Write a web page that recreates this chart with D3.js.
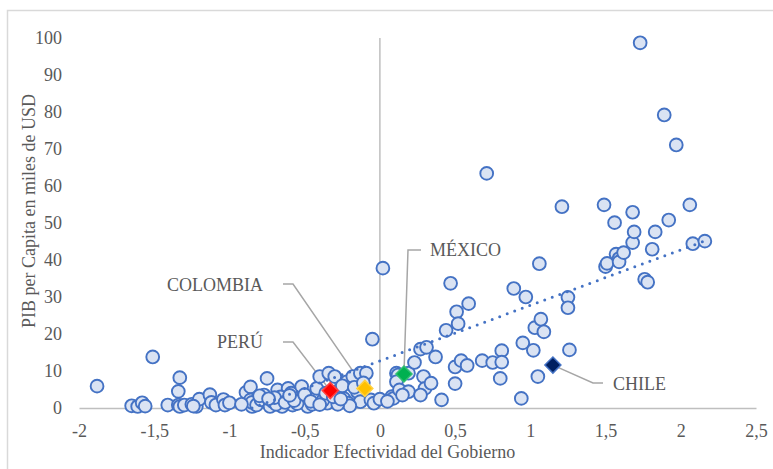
<!DOCTYPE html>
<html><head><meta charset="utf-8">
<script src="https://cdn.jsdelivr.net/npm/d3@7"></script>
<style>
body{margin:0;background:#fff}
</style>
</head><body>
<svg id="chart" width="773" height="469"></svg>
<script>
// ---------- DATA ----------
const xTickValues = [-2, -1.5, -1, -0.5, 0, 0.5, 1, 1.5, 2, 2.5];
const xTickLabels = ["-2", "-1,5", "-1", "-0,5", "0", "0,5", "1", "1,5", "2", "2,5"];
const yTickValues = [0, 10, 20, 30, 40, 50, 60, 70, 80, 90, 100];
const yTickLabels = ["0", "10", "20", "30", "40", "50", "60", "70", "80", "90", "100"];

// Indicador Efectividad del Gobierno (x) and PIB per cápita, miles USD (y)
const effectiveness = [
  -1.88, -1.51, -1.33, -1.34, -1.65, -1.61, -1.58, -1.56, -1.41, -1.34,
  -1.33, -1.30, -1.25, -1.22, -1.20, -1.13, -1.12, -1.09, -1.04, -1.03,
  -1.00, -0.89, -0.86, -0.86, -0.85, -0.85, -0.82, -0.79, -0.75, -0.73,
  -0.71, -0.68, -0.65, -0.62, -0.61, -0.59, -0.58, -0.52, -0.51, -0.48,
  -0.43, -0.42, -0.40, -0.35, -0.34, -0.30, -0.27, -0.24, -0.22, -0.21,
  -0.18, -0.15, -0.13, -0.13, -0.09, -0.06, -0.04, -0.05, -0.20, -0.69,
  -0.55, -0.45, -0.38, -0.28, -0.92, -0.77, -1.24, -0.66,
  -0.70, -0.63, -0.57, -0.50, -0.46, -0.36, -0.31, -0.25, -0.17, -0.11,
  -0.80, -0.74, -0.60, -0.40, -0.26,
  0.02, 0.00, 0.08, 0.09, 0.11, 0.12, 0.11, 0.13, 0.19, 0.19,
  0.23, 0.27, 0.31, 0.37, 0.29, 0.30, 0.34, 0.27, 0.41, 0.44,
  0.47, 0.51, 0.52, 0.59, 0.50, 0.50, 0.54, 0.58, 0.68, 0.71,
  0.75, 0.81, 0.81, 0.80, 0.89, 0.94, 0.95, 0.97, 1.02, 1.03,
  1.06, 1.07, 1.09, 1.05, 1.21, 1.25, 1.25, 1.26, 1.49, 1.50,
  1.51, 1.56, 1.57, 1.59, 1.59, 1.62, 1.68, 1.68, 1.69, 1.73,
  1.76, 1.78, 1.81, 1.83, 1.89, 1.92, 1.97, 2.06, 2.08, 2.16,
  0.15, 0.05
];
const gdpPerCapita = [
  5.9, 13.8, 8.2, 4.5, 0.6, 0.4, 1.4, 0.5, 0.8, 0.8,
  0.4, 0.8, 1.0, 0.4, 2.4, 3.6, 1.5, 0.8, 2.3, 0.8,
  1.4, 4.2, 5.7, 2.2, 0.4, 1.5, 0.8, 2.2, 8.0, 0.4,
  1.7, 4.9, 0.4, 2.6, 5.3, 4.0, 0.8, 5.8, 2.2, 0.4,
  2.6, 5.3, 8.5, 1.3, 9.4, 8.5, 4.9, 2.6, 7.1, 1.3,
  8.5, 4.4, 9.4, 1.7, 9.4, 2.2, 1.3, 18.6, 0.6, 1.0,
  1.2, 1.0, 2.0, 1.0, 1.0, 3.5, 0.5, 3.0,
  2.8, 1.5, 2.0, 3.6, 1.8, 4.0, 3.0, 6.0, 5.6, 6.8,
  3.3, 2.5, 3.4, 0.9, 2.4,
  37.8, 2.4, 3.1, 2.6, 9.4, 8.9, 7.1, 4.9, 4.4, 9.4,
  12.3, 15.9, 16.4, 13.8, 8.5, 5.3, 6.7, 3.5, 2.2, 21.0,
  33.7, 26.0, 22.8, 28.2, 11.1, 6.6, 12.8, 11.5, 12.8, 63.4,
  12.3, 15.5, 12.4, 8.0, 32.3, 2.6, 17.6, 30.0, 15.6, 21.7,
  39.0, 24.0, 20.6, 8.5, 54.4, 29.9, 27.1, 15.7, 54.9, 38.2,
  39.1, 50.1, 41.6, 40.4, 39.5, 42.0, 44.7, 52.9, 47.6, 98.7,
  34.8, 34.0, 42.9, 47.6, 79.2, 50.8, 71.1, 54.9, 44.4, 45.1,
  3.5, 1.8
];

// highlighted countries
const highlightNames = ["PERÚ", "COLOMBIA", "MÉXICO", "CHILE"];
const highlightX = [-0.33, -0.10, 0.16, 1.15];
const highlightY = [4.7, 5.3, 9.2, 11.6];

// linear trend line endpoints
const trendX = [-0.85, 2.15];
const trendY = [0, 45.0];

const xTitle = "Indicador Efectividad del Gobierno";
const yTitle = "PIB per Capita en miles de USD";

// ---------- STYLE / LAYOUT ----------
const FONT = "'Liberation Serif', 'Times New Roman', Times, 'DejaVu Serif', serif";
const TXT = "#595959";
const highlightFill = {"PERÚ": "#FF0000", "COLOMBIA": "#FFC000", "MÉXICO": "#00B050", "CHILE": "#002060"};
const highlightStroke = {"PERÚ": "#FF4040", "COLOMBIA": "#FFD040", "MÉXICO": "#30C070", "CHILE": "#4472C4"};
const labelLayout = {
  "PERÚ":     {tx: 263, ty: 348, anchor: "end",   a: [283, 342], b: [293, 342]},
  "COLOMBIA": {tx: 263, ty: 291, anchor: "end",   a: [283, 284], b: [293, 284]},
  "MÉXICO":   {tx: 430, ty: 256, anchor: "start", a: [421, 250], b: [408, 250]},
  "CHILE":    {tx: 613, ty: 390, anchor: "start", a: [603, 383], b: [593, 383]}
};

const svg = d3.select("#chart").style("font-family", FONT);
svg.append("rect").attr("x", 7.5).attr("y", 10.5).attr("width", 800).attr("height", 500)
  .attr("fill", "#fff").attr("stroke", "#D9D9D9").attr("stroke-width", 1.5);

const x = d3.scaleLinear().domain([-2, 2.5]).range([79, 756]);
const y = d3.scaleLinear().domain([0, 100]).range([408, 38]);

function styleText(sel) {
  sel.style("font-family", FONT).style("font-size", "18px").style("fill", TXT).attr("fill", TXT);
}

// x axis
const xAxis = d3.axisBottom(x).tickValues(xTickValues)
  .tickFormat((d, i) => xTickLabels[i]).tickSize(0).tickSizeOuter(0).tickPadding(16.5);
const gx = svg.append("g").attr("transform", `translate(0,${y(0)})`).call(xAxis);
gx.select(".domain").attr("stroke", "#BFBFBF").attr("stroke-width", 1.5);
styleText(gx.selectAll("text"));

// y axis (labels on left, line at x=0)
const yAxis = d3.axisLeft(y).tickValues(yTickValues)
  .tickFormat((d, i) => yTickLabels[i]).tickSize(0).tickSizeOuter(0).tickPadding(17);
const gy = svg.append("g").attr("transform", `translate(${x(-2)},0)`).call(yAxis);
gy.select(".domain").remove();
styleText(gy.selectAll("text"));

svg.append("line").attr("x1", x(0)).attr("x2", x(0)).attr("y1", y(0)).attr("y2", y(100))
  .attr("stroke", "#BFBFBF").attr("stroke-width", 1.5);

// titles
styleText(svg.append("text").attr("x", 387.5).attr("y", 458).attr("text-anchor", "middle").text(xTitle));
styleText(svg.append("text").attr("transform", `translate(35,211) rotate(-90)`).attr("text-anchor", "middle").text(yTitle));

// leader lines + labels
highlightNames.forEach((n, i) => {
  const L = labelLayout[n];
  svg.append("polyline")
    .attr("points", [L.a, L.b, [x(highlightX[i]), y(highlightY[i])]].map(p => p.join(",")).join(" "))
    .attr("fill", "none").attr("stroke", "#A6A6A6").attr("stroke-width", 1.5);
  styleText(svg.append("text").attr("x", L.tx).attr("y", L.ty).attr("text-anchor", L.anchor).text(n));
});

// points
const pts = effectiveness.map((v, i) => ({x: v, y: gdpPerCapita[i]}));
svg.append("g").selectAll("circle").data(pts).join("circle")
  .attr("cx", d => x(d.x)).attr("cy", d => y(d.y)).attr("r", 6.4)
  .attr("fill", "#DAE3F3").attr("stroke", "#4472C4").attr("stroke-width", 1.9);

// trend line (dotted)
svg.append("line")
  .attr("x1", x(trendX[0])).attr("y1", y(trendY[0]))
  .attr("x2", x(trendX[1])).attr("y2", y(trendY[1]))
  .attr("stroke", "#4472C4").attr("stroke-width", 3)
  .attr("stroke-linecap", "round").attr("stroke-dasharray", "0,8");

// highlighted diamonds
const diamond = r => `M0,${-r}L${r},0L0,${r}L${-r},0Z`;
svg.append("g").selectAll("path").data(highlightNames).join("path")
  .attr("transform", (n, i) => `translate(${x(highlightX[i])},${y(highlightY[i])})`)
  .attr("d", diamond(8))
  .attr("fill", n => highlightFill[n]).attr("stroke", n => highlightStroke[n]).attr("stroke-width", 1.5);
</script>
</body></html>
